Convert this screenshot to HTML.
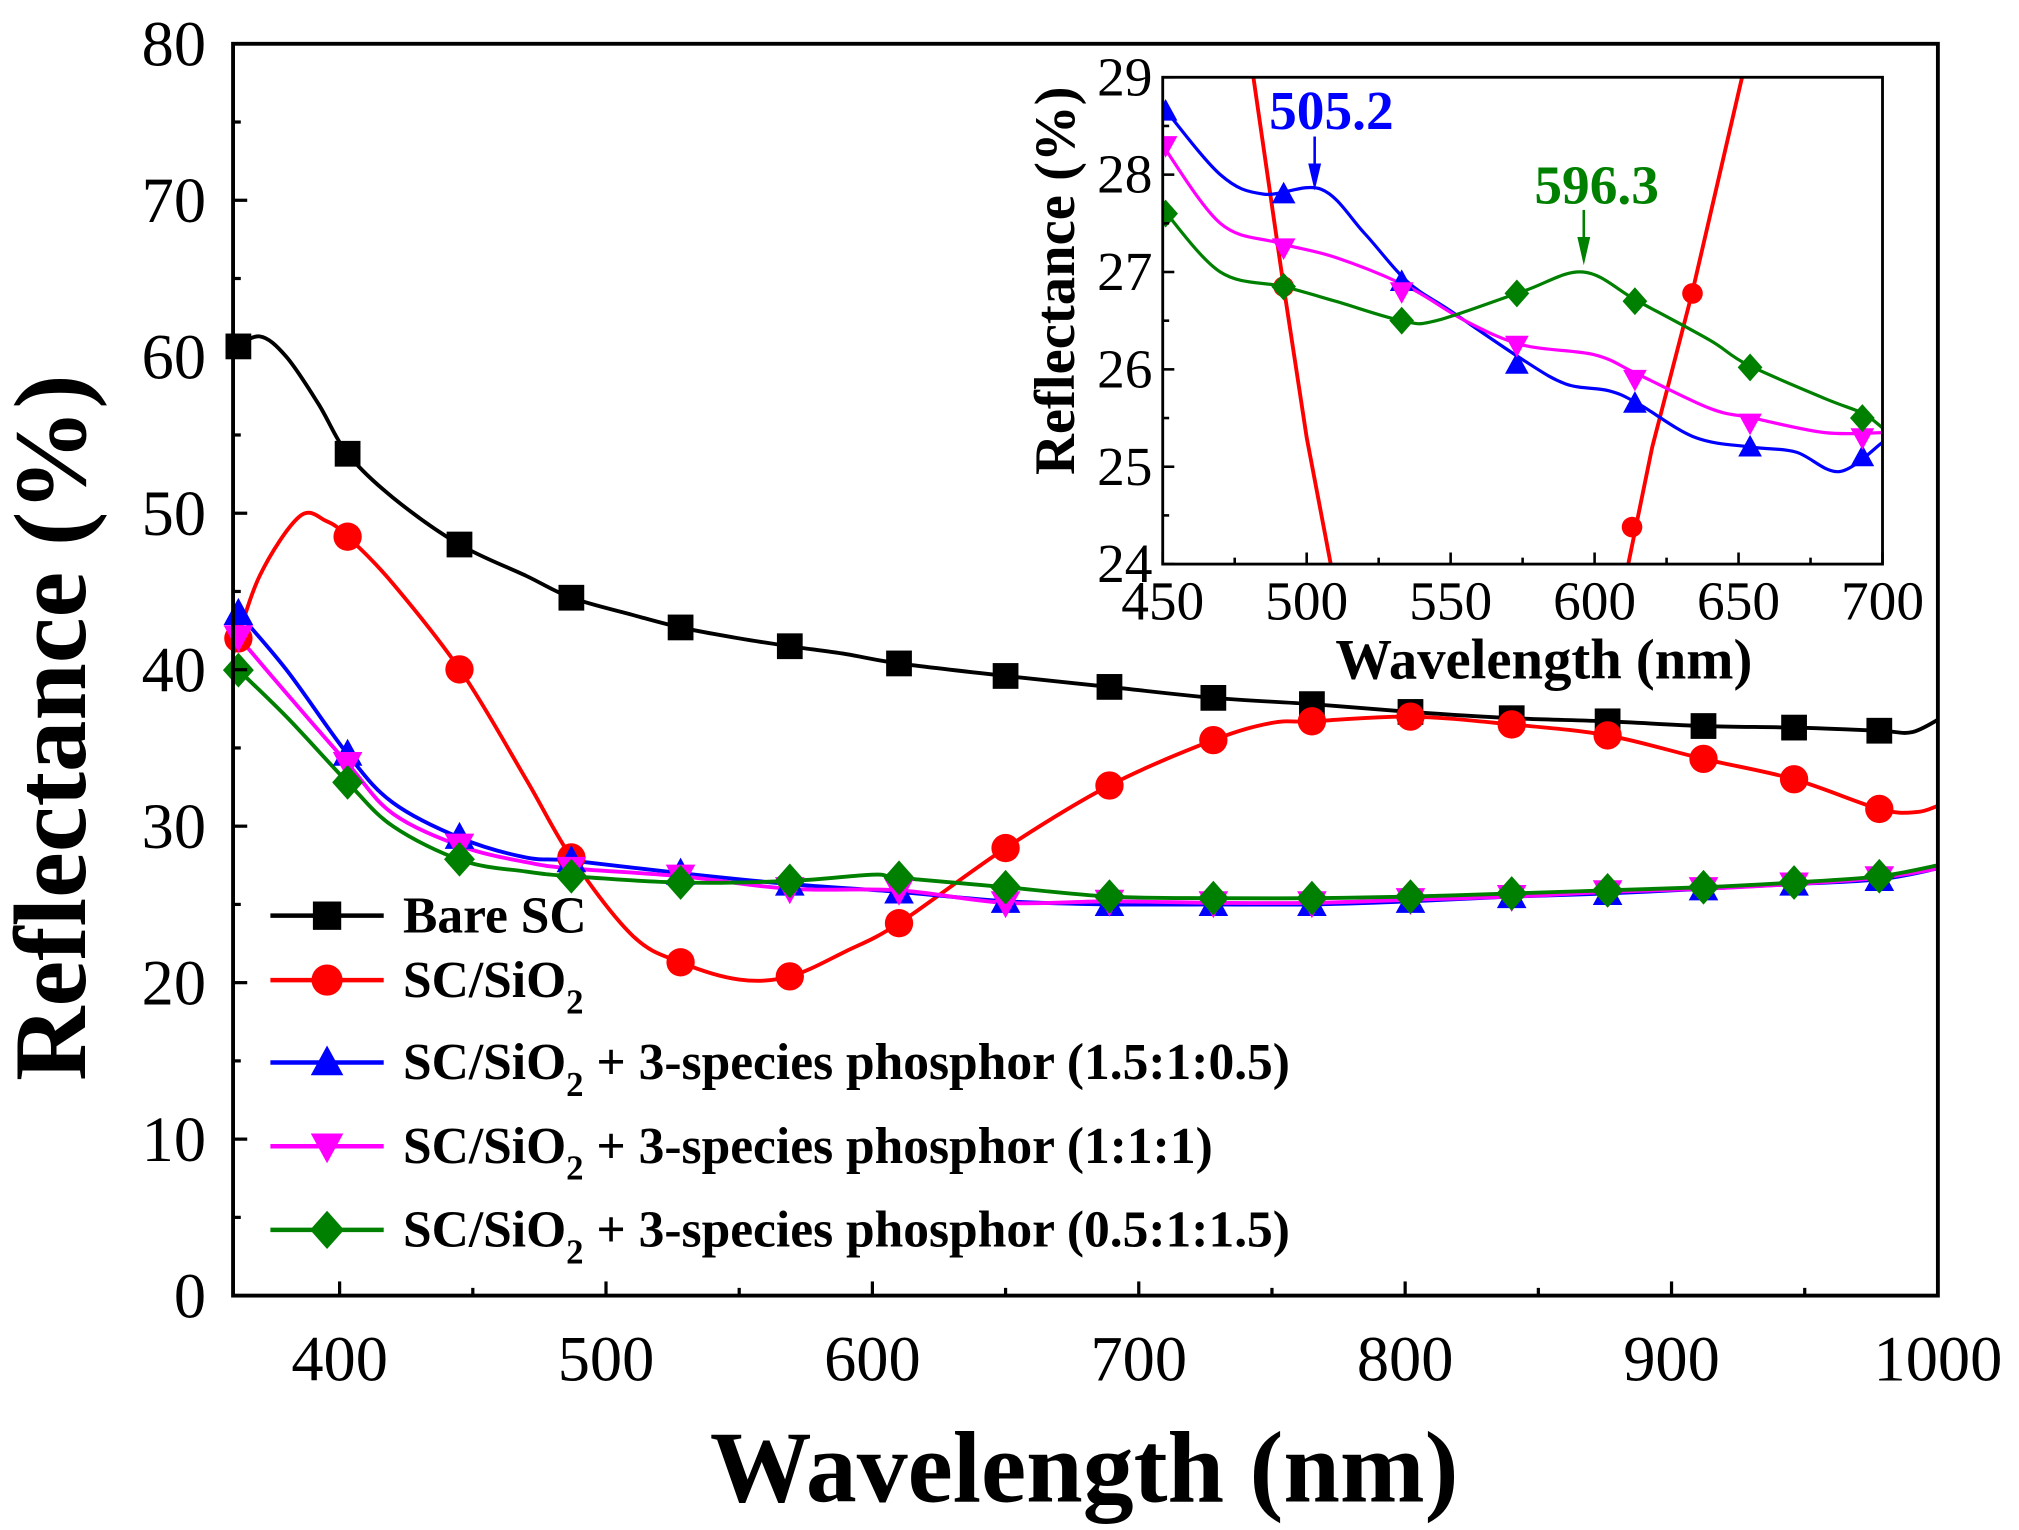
<!DOCTYPE html><html><head><meta charset="utf-8"><style>html,body{margin:0;padding:0;background:#fff}svg{display:block}</style></head><body>
<svg id="s" width="2019" height="1530" viewBox="0 0 1568 1188" preserveAspectRatio="none" xmlns="http://www.w3.org/2000/svg" font-family="Liberation Serif, serif">
<defs><clipPath id="cm"><rect x="181" y="34" width="1324" height="972"/></clipPath><clipPath id="ci"><rect x="903" y="60" width="559" height="378"/></clipPath></defs>
<g id="main" clip-path="url(#cm)"></g>
<g id="mk"></g>
<rect x="903" y="60" width="559" height="378" fill="#fff"/>
<g id="ins" clip-path="url(#ci)"></g>
<g id="ax" stroke="#000" fill="none"></g>
<g id="tx"></g>
</svg>
<script>
const NS="http://www.w3.org/2000/svg";
function el(p,t,a,txt){const e=document.createElementNS(NS,t);for(const k in a)e.setAttribute(k,a[k]);if(txt!==undefined)e.textContent=txt;document.getElementById(p).appendChild(e);return e;}
const mx=x=>181+(x-360)*2.0688, my=y=>1006-y*12.15;
const ix=x=>903+(x-450)*2.236, iy=y=>438-(y-24)*75.6;
function path(pts,fx,fy){const P=pts.map(p=>[fx(p[0]),fy(p[1])]);let d="M"+P[0][0]+","+P[0][1];for(let i=0;i<P.length-1;i++){const p0=P[i-1]||P[i],p1=P[i],p2=P[i+1],p3=P[i+2]||p2;const c1=[p1[0]+(p2[0]-p0[0])/6,p1[1]+(p2[1]-p0[1])/6],c2=[p2[0]-(p3[0]-p1[0])/6,p2[1]-(p3[1]-p1[1])/6];d+=`C${c1[0]},${c1[1]} ${c2[0]},${c2[1]} ${p2[0]},${p2[1]}`;}return d;}
function interp(pts,x){for(let i=0;i<pts.length-1;i++){if(x>=pts[i][0]&&x<=pts[i+1][0]){const t=(x-pts[i][0])/(pts[i+1][0]-pts[i][0]);return pts[i][1]+t*(pts[i+1][1]-pts[i][1]);}}return pts[pts.length-1][1];}
function marker(g,type,x,y,c,s){
 if(type=="sq")el(g,"rect",{x:x-s,y:y-s,width:2*s,height:2*s,fill:c});
 else if(type=="ci")el(g,"circle",{cx:x,cy:y,r:s*1.1,fill:c});
 else if(type=="up")el(g,"polygon",{points:`${x},${y-s*1.2} ${x-s*1.15},${y+s*0.9} ${x+s*1.15},${y+s*0.9}`,fill:c});
 else if(type=="dn")el(g,"polygon",{points:`${x},${y+s*1.2} ${x-s*1.15},${y-s*0.9} ${x+s*1.15},${y-s*0.9}`,fill:c});
 else el(g,"polygon",{points:`${x},${y-s*1.35} ${x-s*1.2},${y} ${x},${y+s*1.35} ${x+s*1.2},${y}`,fill:c});
}
const S=[
 {c:"#000",t:"sq",p:[[360,60.5],[370,61.3],[380,60],[392,57],[403,53.8],[420,51],[445,48],[470,46],[487,44.6],[510,43.5],[528,42.7],[550,42],[569,41.5],[590,41],[610,40.4],[650,39.6],[689,38.9],[728,38.2],[765,37.8],[802,37.3],[840,36.9],[876,36.7],[912,36.4],[946,36.3],[978,36.1],[990,36],[1000,36.8]]},
 {c:"#f00",t:"ci",p:[[360,41],[370,46],[385,49.8],[395,49.5],[403,48.5],[420,45.5],[446,39.8],[470,33],[487,28],[510,23],[528,21.3],[550,20.2],[569,20.4],[590,22],[610,23.8],[650,28.6],[689,32.6],[728,35.5],[750,36.6],[765,36.7],[802,37],[840,36.5],[876,35.8],[912,34.3],[946,33],[978,31.1],[992,30.9],[1000,31.3]]},
 {c:"#00f",t:"up",p:[[360,44],[380,40],[403,34.6],[420,31.5],[446,29.2],[470,28],[487,27.8],[528,27],[569,26.3],[610,25.8],[650,25.2],[689,25],[728,25],[765,25],[802,25.2],[840,25.5],[876,25.7],[912,26],[946,26.3],[978,26.6],[1000,27.3]]},
 {c:"#f0f",t:"dn",p:[[360,42.5],[380,38.5],[403,34],[420,30.8],[446,28.7],[470,27.7],[487,27.3],[528,26.8],[569,26],[610,25.9],[650,25.1],[689,25.2],[728,25.1],[765,25.1],[802,25.3],[840,25.5],[876,25.8],[912,26],[946,26.3],[978,26.7],[1000,27.3]]},
 {c:"#008000",t:"di",p:[[360,40.3],[380,37],[403,32.8],[420,30],[446,27.8],[470,27.1],[487,26.8],[528,26.4],[569,26.5],[600,26.9],[610,26.7],[650,26.1],[689,25.5],[728,25.4],[765,25.4],[802,25.5],[840,25.7],[876,25.9],[912,26.1],[946,26.4],[978,26.8],[1000,27.5]]}];
const MX=[362,403,445,487,528,569,610,650,689,728,765,802,840,876,912,946,978];
S.forEach(s=>{el("main","path",{d:path(s.p,mx,my),fill:"none",stroke:s.c,"stroke-width":3});});
S.forEach(s=>{MX.forEach(x=>marker("mk",s.t,mx(x),my(interp(s.p,x)),s.c,10));});
const I=[
 {c:"#00f",t:"up",p:[[450,28.7],[470,28.0],[485,27.8],[505,27.85],[520,27.4],[535,26.9],[550,26.6],[575,26.1],[590,25.85],[605,25.78],[615,25.65],[635,25.3],[655,25.2],[670,25.15],[685,24.95],[700,25.25]],m:[[451,28.65],[492,27.8],[533,26.9],[573,26.05],[614,25.65],[654,25.2],[693,25.1]]},
 {c:"#f0f",t:"dn",p:[[450,28.3],[470,27.5],[490,27.3],[510,27.15],[535,26.85],[555,26.5],[575,26.25],[600,26.15],[615,25.95],[640,25.6],[655,25.5],[680,25.35],[700,25.35]],m:[[451,28.3],[492,27.25],[533,26.8],[573,26.25],[614,25.9],[654,25.45],[693,25.3]]},
 {c:"#008000",t:"di",p:[[450,27.65],[470,27.0],[492,26.85],[510,26.7],[533,26.5],[545,26.5],[575,26.8],[596,27.0],[615,26.7],[640,26.3],[653,26.05],[680,25.7],[693,25.55],[700,25.4]],m:[[451,27.6],[492,26.85],[533,26.5],[573,26.78],[614,26.7],[654,26.02],[693,25.5]]}];
el("ins","path",{d:`M${ix(481)},${iy(29.1)} L${ix(492)},${iy(26.85)} L${ix(500)},${iy(25.3)} L${ix(509)},${iy(23.9)}`,fill:"none",stroke:"#f00","stroke-width":3});
el("ins","path",{d:`M${ix(611)},${iy(23.9)} L${ix(620)},${iy(25.2)} L${ix(634)},${iy(26.8)} L${ix(652)},${iy(29.1)}`,fill:"none",stroke:"#f00","stroke-width":3});
I.forEach(s=>{el("ins","path",{d:path(s.p,ix,iy),fill:"none",stroke:s.c,"stroke-width":2.5});});
el("ins","circle",{cx:ix(492),cy:iy(26.85),r:8,fill:"#f00"});
el("ins","circle",{cx:ix(613),cy:iy(24.38),r:8,fill:"#f00"});
el("ins","circle",{cx:ix(634),cy:iy(26.78),r:8,fill:"#f00"});
I.forEach(s=>s.m.forEach(m=>marker("ins",s.t,ix(m[0]),iy(m[1]),s.c,8)));
el("ax","rect",{x:181,y:34,width:1324,height:972,"stroke-width":3});
for(let v=0;v<=80;v+=5){const y=my(v);el("ax","line",{x1:181,y1:y,x2:181+(v%10?6:11),y2:y,"stroke-width":2.5});if(v%10==0)el("tx","text",{x:160,y:y+17,"text-anchor":"end","font-size":50},v);}
for(let v=400;v<=1000;v+=50){const x=mx(v);el("ax","line",{x1:x,y1:1006,x2:x,y2:1006-(v%100?6:11),"stroke-width":2.5});if(v%100==0)el("tx","text",{x:x,y:1072,"text-anchor":"middle","font-size":50},v);}
el("tx","text",{x:842,y:1166,"text-anchor":"middle","font-size":79,"font-weight":"bold"},"Wavelength (nm)");
el("tx","text",{x:0,y:0,transform:"translate(66,565) rotate(-90)","text-anchor":"middle","font-size":80,"font-weight":"bold"},"Reflectance (%)");
el("ax","rect",{x:903,y:60,width:559,height:378,"stroke-width":2.2});
for(let v=24;v<=29;v+=0.5){const y=iy(v);el("ax","line",{x1:903,y1:y,x2:903+(v%1?5:9),y2:y,"stroke-width":2});if(v%1==0)el("tx","text",{x:895,y:y+14,"text-anchor":"end","font-size":43},v);}
for(let v=450;v<=700;v+=25){const x=ix(v);el("ax","line",{x1:x,y1:438,x2:x,y2:438-(v%50?5:9),"stroke-width":2});if(v%50==0)el("tx","text",{x:x,y:481,"text-anchor":"middle","font-size":43},v);}
el("tx","text",{x:1199,y:527,"text-anchor":"middle","font-size":44,"font-weight":"bold"},"Wavelength (nm)");
el("tx","text",{x:0,y:0,transform:"translate(834,218) rotate(-90)","text-anchor":"middle","font-size":44,"font-weight":"bold"},"Reflectance (%)");
el("tx","text",{x:1034,y:100,"text-anchor":"middle","font-size":43,"font-weight":"bold",fill:"#00f"},"505.2");
el("tx","text",{x:1240,y:158,"text-anchor":"middle","font-size":43,"font-weight":"bold",fill:"#008000"},"596.3");
el("ax","line",{x1:1021,y1:106,x2:1021,y2:135,stroke:"#00f","stroke-width":2});
el("tx","polygon",{points:"1016,127 1026,127 1021,148",fill:"#00f"});
el("ax","line",{x1:1230,y1:163,x2:1230,y2:192,stroke:"#008000","stroke-width":2});
el("tx","polygon",{points:"1225,184 1235,184 1230,206",fill:"#008000"});
const L=[711,761,825,890,955];
const suf=["","","+ 3-species phosphor (1.5:1:0.5)","+ 3-species phosphor (1:1:1)","+ 3-species phosphor (0.5:1:1.5)"];
L.forEach((y,i)=>{const s=S[i];el("tx","line",{x1:210,y1:y,x2:298,y2:y,stroke:s.c,"stroke-width":3.5});marker("tx",s.t,254,y,s.c,11);
 const t=el("tx","text",{x:313,y:y+13,"font-size":40,"font-weight":"bold"});
 if(i==0)t.textContent="Bare SC";else{t.appendChild(document.createTextNode("SC/SiO"));const ts=document.createElementNS(NS,"tspan");ts.setAttribute("font-size","27");ts.setAttribute("dy","13");ts.textContent="2";t.appendChild(ts);if(i>1){const t2=document.createElementNS(NS,"tspan");t2.setAttribute("dy","-13");t2.textContent=" "+suf[i];t.appendChild(t2);}}
});
</script>
</body></html>
